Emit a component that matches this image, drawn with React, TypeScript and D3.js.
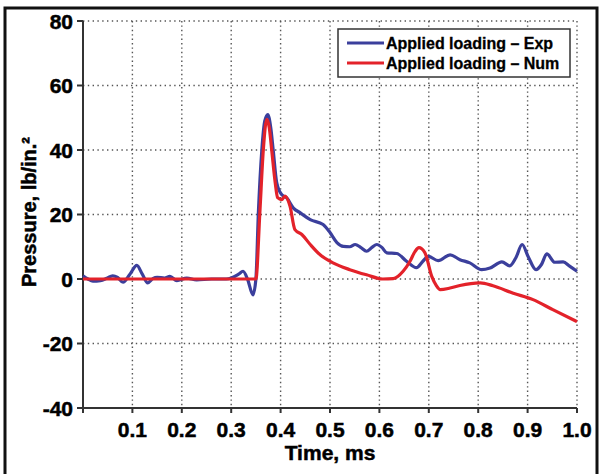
import React from 'react';
import * as d3 from 'd3';

// experimental curve (time ms, pressure psi)
const expTime = [0, 0.01, 0.02, 0.035, 0.048, 0.06, 0.07, 0.081, 0.095, 0.109, 0.12, 0.131, 0.142, 0.15, 0.165, 0.176, 0.19, 0.21, 0.23, 0.26, 0.29, 0.3, 0.315, 0.324, 0.333, 0.344, 0.35, 0.355, 0.362, 0.368, 0.374, 0.38, 0.385, 0.392, 0.402, 0.412, 0.426, 0.44, 0.46, 0.486, 0.5, 0.514, 0.527, 0.54, 0.551, 0.562, 0.574, 0.585, 0.595, 0.605, 0.615, 0.635, 0.655, 0.675, 0.688, 0.699, 0.719, 0.743, 0.763, 0.783, 0.807, 0.824, 0.848, 0.864, 0.876, 0.889, 0.901, 0.917, 0.928, 0.939, 0.955, 0.972, 0.985, 1.0];
const expPressure = [1.0, 0, -0.7, -0.5, 0.2, 1.0, 0.5, -1.0, 1.5, 4.2, 1.5, -1.2, 0.2, 0.5, 0.3, 0.8, -0.5, 0.3, -0.3, 0, 0, 0.3, 1.5, 2.4, 0, -4.9, 0, 20.5, 40, 49, 51, 47, 40, 30, 26.2, 25.2, 22, 20.5, 18.4, 16.9, 14.4, 11.3, 10.1, 10.0, 10.7, 9.8, 8.6, 9.8, 10.7, 9.8, 8.1, 7.9, 5.5, 3.5, 5.5, 7.0, 5.7, 7.5, 6.0, 5.0, 2.9, 3.4, 5.3, 4.1, 6.5, 10.7, 7.0, 2.9, 4.5, 7.8, 5.2, 5.3, 4.0, 2.4];

// numerical curve
const numTime = [0, 0.35, 0.358, 0.365, 0.372, 0.377, 0.382, 0.389, 0.394, 0.402, 0.409, 0.419, 0.429, 0.443, 0.46, 0.48, 0.506, 0.54, 0.574, 0.607, 0.628, 0.648, 0.662, 0.672, 0.68, 0.692, 0.706, 0.715, 0.723, 0.743, 0.763, 0.804, 0.83, 0.871, 0.911, 0.951, 1.0];
const numPressure = [0, 0, 20.6, 40, 49.5, 47, 40, 30, 25.2, 24.6, 25.7, 22.6, 15.3, 13.8, 10.7, 7.5, 5.0, 2.9, 1.3, 0, 0.1, 2.4, 5.5, 8.5, 9.7, 8.2, 0.8, -2.0, -3.3, -2.8, -2.0, -1.2, -2.1, -4.4, -6.4, -9.5, -13.2];

const xTicks = [0.1, 0.2, 0.3, 0.4, 0.5, 0.6, 0.7, 0.8, 0.9, 1.0];
const yTicks = [80, 60, 40, 20, 0, -20, -40];
const seriesNames = ['Applied loading \u2013 Exp', 'Applied loading \u2013 Num'];
const seriesColors = ['#3b3f9c', '#e3222a'];

const W = 601, H = 474;
const font = '"Liberation Sans", Arial, Helvetica, sans-serif';

export default function App() {
  const x = d3.scaleLinear().domain([0, 1]).range([83, 577]);
  const y = d3.scaleLinear().domain([-40, 80]).range([408, 21]);

  const line = d3.line<[number, number]>()
    .x(d => x(d[0]))
    .y(d => y(d[1]))
    .curve(d3.curveMonotoneX);

  const expPts = expTime.map((t, i) => [t, expPressure[i]] as [number, number]);
  const numPts = numTime.map((t, i) => [t, numPressure[i]] as [number, number]);

  // heavier text, close to the original's black face
  const txt = { fontFamily: font, fontWeight: 'bold' as const, stroke: '#000', strokeWidth: 0.5 };

  return (
    <div style={{ position: 'fixed', left: 0, top: 0 }}>
      <svg width={W} height={H} style={{ display: 'block', background: '#fff' }}>
        <rect x={5} y={8} width={592} height={480} fill="none" stroke="#111" strokeWidth={3} />

        {/* grid */}
        {yTicks.filter(v => v !== -40).map(v => (
          <line key={'gy' + v} x1={x(0)} x2={x(1)} y1={y(v)} y2={y(v)}
            stroke="#555" strokeWidth={1.4} strokeDasharray="1.4,3.4" />
        ))}
        {xTicks.map(t => (
          <line key={'gx' + t} x1={x(t)} x2={x(t)} y1={y(80)} y2={y(-40)}
            stroke="#555" strokeWidth={1.4} strokeDasharray="1.4,3" />
        ))}

        {/* axes */}
        <line x1={x(0)} x2={x(0)} y1={y(80)} y2={y(-40)} stroke="#333" strokeWidth={2} />
        <line x1={x(0)} x2={x(1)} y1={y(-40)} y2={y(-40)} stroke="#333" strokeWidth={2} />
        {yTicks.map(v => (
          <g key={'ty' + v}>
            <line x1={x(0) - 6} x2={x(0)} y1={y(v)} y2={y(v)} stroke="#333" strokeWidth={2} />
            <text x={73} y={y(v) + 7.5} textAnchor="end" fontSize={21} {...txt}>{v}</text>
          </g>
        ))}
        {[0, ...xTicks].map(t => (
          <line key={'tx' + t} x1={x(t)} x2={x(t)} y1={y(-40)} y2={y(-40) + 5} stroke="#333" strokeWidth={2} />
        ))}
        {xTicks.map(t => (
          <text key={'lx' + t} x={x(t)} y={437} textAnchor="middle" fontSize={21} {...txt}>{t.toFixed(1)}</text>
        ))}

        <text x={330} y={460} textAnchor="middle" fontSize={21} {...txt}>Time, ms</text>
        <text transform="translate(36,212) rotate(-90)" textAnchor="middle" fontSize={20} {...txt}>Pressure, lb/in.²</text>

        {/* curves */}
        <path d={line(expPts) || ''} fill="none" stroke={seriesColors[0]} strokeWidth={3.2} strokeLinejoin="round" />
        <path d={line(numPts) || ''} fill="none" stroke={seriesColors[1]} strokeWidth={3.2} strokeLinejoin="round" />

        {/* legend */}
        <rect x={338} y={29} width={232} height={48} fill="#fff" stroke="#333" strokeWidth={1.5} />
        {seriesNames.map((n, i) => (
          <g key={n}>
            <line x1={347} x2={384} y1={43 + i * 20} y2={43 + i * 20} stroke={seriesColors[i]} strokeWidth={3} />
            <text x={386} y={48.5 + i * 20} fontSize={16} {...txt} strokeWidth={0.3}>{n}</text>
          </g>
        ))}
      </svg>
    </div>
  );
}
